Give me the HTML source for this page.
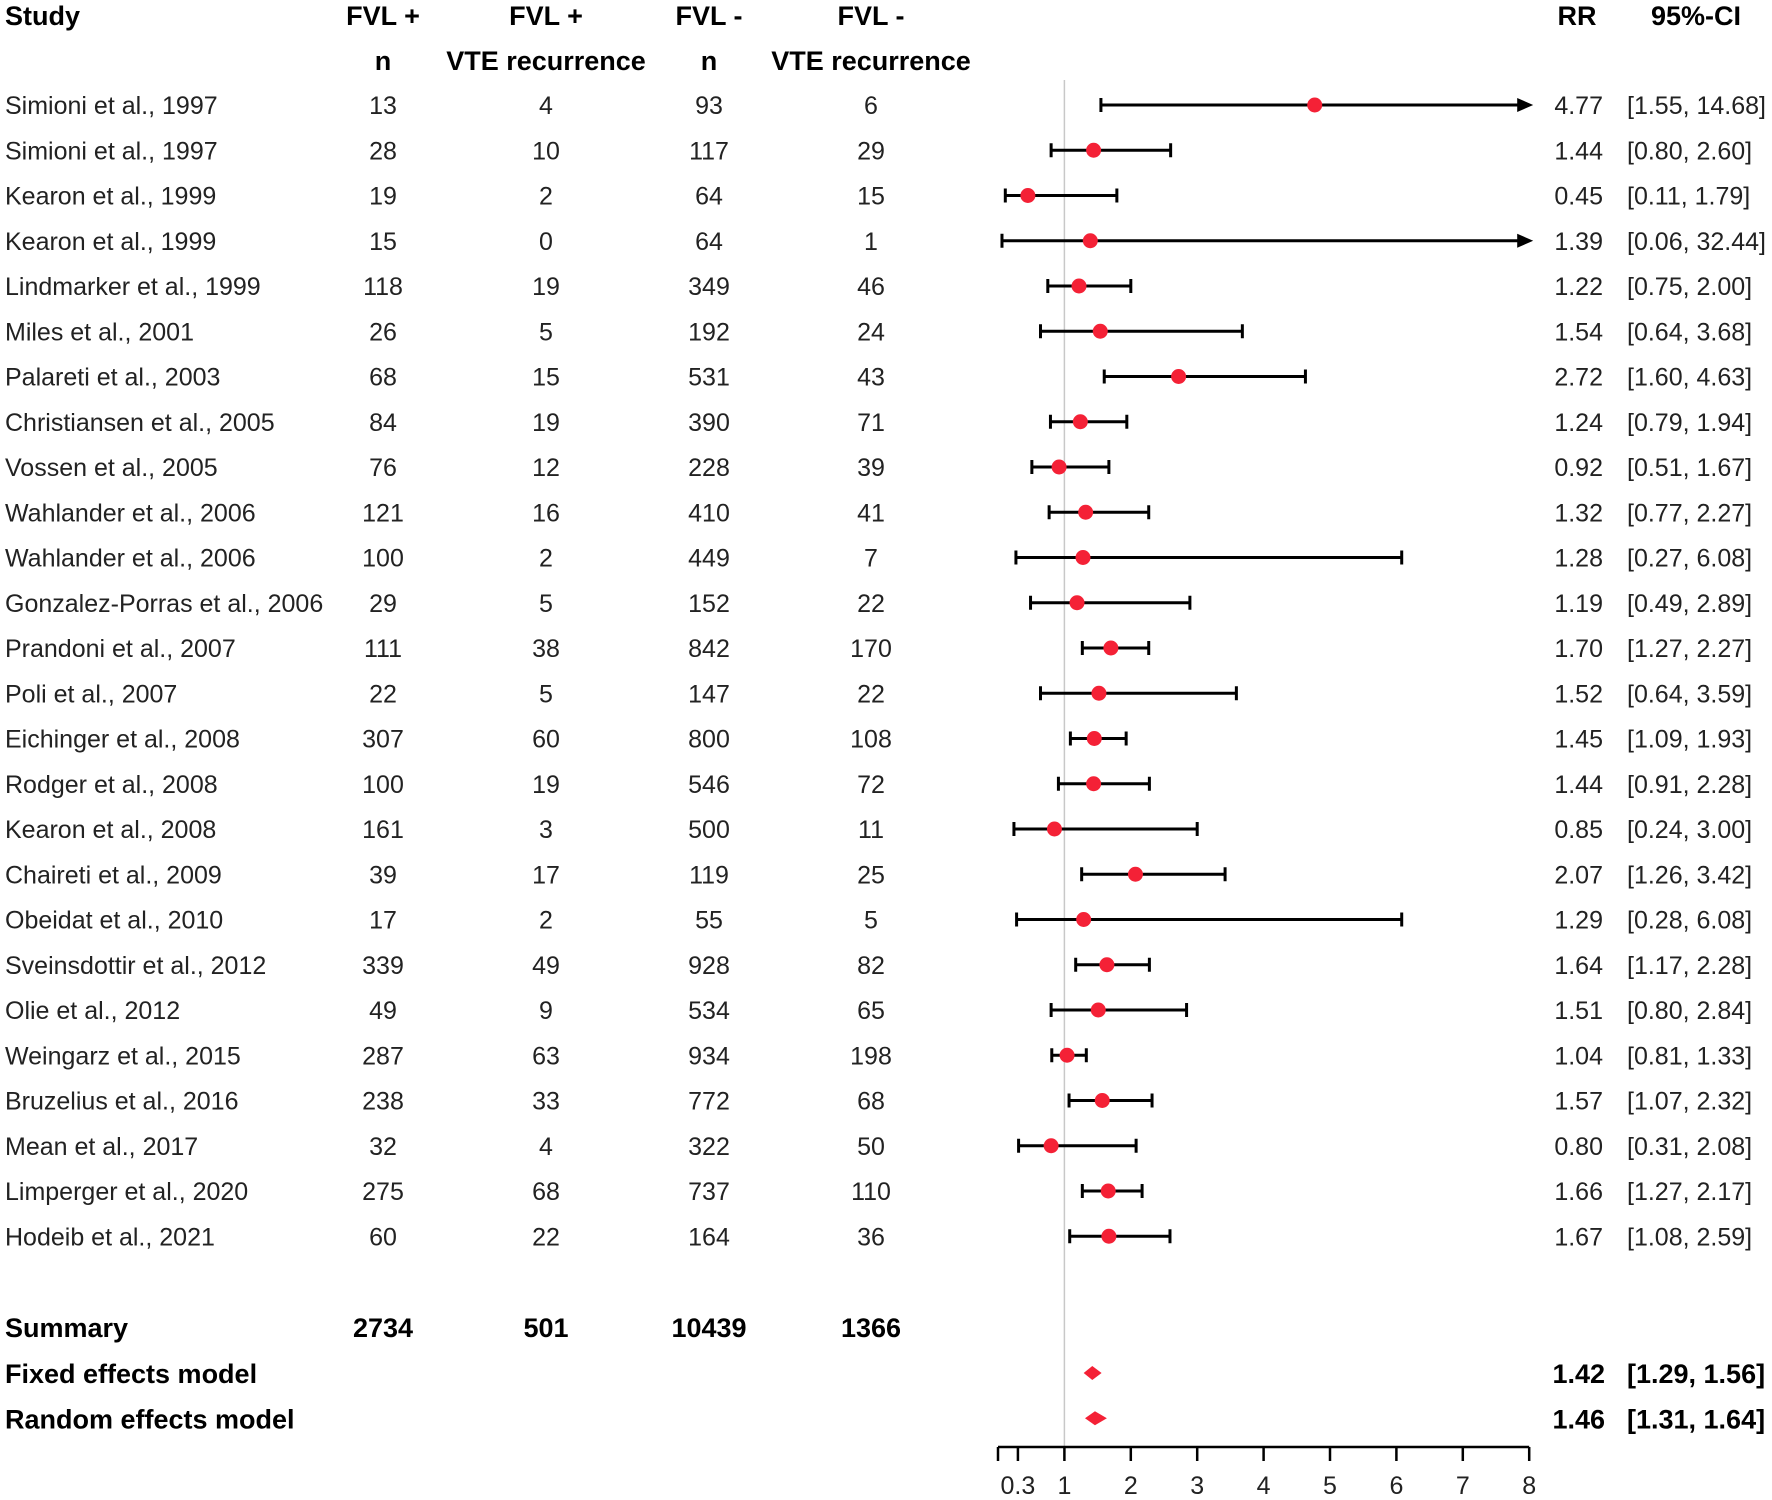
<!DOCTYPE html>
<html><head><meta charset="utf-8">
<style>
html,body{margin:0;padding:0;background:#fff;}
svg{display:block;font-family:"Liberation Sans",Arial,sans-serif;}
</style></head>
<body>
<svg id="plot" width="1772" height="1500" viewBox="0 0 1772 1500" xmlns="http://www.w3.org/2000/svg">
<g id="headers" font-weight="bold" font-size="27" fill="#000">
<text x="5" y="25">Study</text>
<text x="383" y="25" text-anchor="middle">FVL +</text>
<text x="383" y="70" text-anchor="middle">n</text>
<text x="546" y="25" text-anchor="middle">FVL +</text>
<text x="546" y="70" text-anchor="middle">VTE recurrence</text>
<text x="709" y="25" text-anchor="middle">FVL -</text>
<text x="709" y="70" text-anchor="middle">n</text>
<text x="871" y="25" text-anchor="middle">FVL -</text>
<text x="871" y="70" text-anchor="middle">VTE recurrence</text>
<text x="1577" y="25" text-anchor="middle">RR</text>
<text x="1696" y="25" text-anchor="middle">95%-CI</text>
</g>
<g id="rows"></g>
<g id="marks"></g>
<g id="axis"></g>
</svg>
<script>
const studies=["Simioni et al., 1997","Simioni et al., 1997","Kearon et al., 1999","Kearon et al., 1999","Lindmarker et al., 1999","Miles et al., 2001","Palareti et al., 2003","Christiansen et al., 2005","Vossen et al., 2005","Wahlander et al., 2006","Wahlander et al., 2006","Gonzalez-Porras et al., 2006","Prandoni et al., 2007","Poli et al., 2007","Eichinger et al., 2008","Rodger et al., 2008","Kearon et al., 2008","Chaireti et al., 2009","Obeidat et al., 2010","Sveinsdottir et al., 2012","Olie et al., 2012","Weingarz et al., 2015","Bruzelius et al., 2016","Mean et al., 2017","Limperger et al., 2020","Hodeib et al., 2021"];
const posN=[13,28,19,15,118,26,68,84,76,121,100,29,111,22,307,100,161,39,17,339,49,287,238,32,275,60];
const posVTE=[4,10,2,0,19,5,15,19,12,16,2,5,38,5,60,19,3,17,2,49,9,63,33,4,68,22];
const negN=[93,117,64,64,349,192,531,390,228,410,449,152,842,147,800,546,500,119,55,928,534,934,772,322,737,164];
const negVTE=[6,29,15,1,46,24,43,71,39,41,7,22,170,22,108,72,11,25,5,82,65,198,68,50,110,36];
const rr=[4.77,1.44,0.45,1.39,1.22,1.54,2.72,1.24,0.92,1.32,1.28,1.19,1.70,1.52,1.45,1.44,0.85,2.07,1.29,1.64,1.51,1.04,1.57,0.80,1.66,1.67];
const lo=[1.55,0.80,0.11,0.06,0.75,0.64,1.60,0.79,0.51,0.77,0.27,0.49,1.27,0.64,1.09,0.91,0.24,1.26,0.28,1.17,0.80,0.81,1.07,0.31,1.27,1.08];
const hi=[14.68,2.60,1.79,32.44,2.00,3.68,4.63,1.94,1.67,2.27,6.08,2.89,2.27,3.59,1.93,2.28,3.00,3.42,6.08,2.28,2.84,1.33,2.32,2.08,2.17,2.59];
const summaryTotals=[2734,501,10439,1366];
const modelNames=["Fixed effects model","Random effects model"];
const modelRR=[1.42,1.46];
const modelLo=[1.29,1.31];
const modelHi=[1.56,1.64];
const tickVals=[0,0.3,1,2,3,4,5,6,7,8];
const tickLabels=["","0.3","1","2","3","4","5","6","7","8"];

const NS="http://www.w3.org/2000/svg";
const xS=v=>998+v*66.4;
const XMAX=8;
const yRow=i=>105+i*45.25;
function mk(tag,attrs,parent,txt){const e=document.createElementNS(NS,tag);for(const k in attrs)e.setAttribute(k,attrs[k]);if(txt!==undefined)e.textContent=txt;parent.appendChild(e);return e;}
const rows=document.getElementById('rows'),marks=document.getElementById('marks'),axis=document.getElementById('axis');
const f2=v=>v.toFixed(2);

const ref=mk('line',{x1:xS(1),x2:xS(1),y1:80,y2:1447,stroke:'#c8c8c8','stroke-width':1.5},marks);



studies.forEach((s,i)=>{
  const y=yRow(i), ty=y+9;
  const g=mk('g',{'font-size':25,fill:'#222'},rows);
  
  
  mk('text',{x:5,y:ty},g,s);
  mk('text',{x:383,y:ty,'text-anchor':'middle'},g,posN[i]);
  mk('text',{x:546,y:ty,'text-anchor':'middle'},g,posVTE[i]);
  mk('text',{x:709,y:ty,'text-anchor':'middle'},g,negN[i]);
  mk('text',{x:871,y:ty,'text-anchor':'middle'},g,negVTE[i]);
  mk('text',{x:1603,y:ty,'text-anchor':'end'},g,f2(rr[i]));
  mk('text',{x:1627,y:ty},g,'['+f2(lo[i])+', '+f2(hi[i])+']');
  const m=mk('g',{},marks);
  
  
  const x1=xS(lo[i]);
  const over=hi[i]>XMAX;
  const x2=over?xS(XMAX):xS(hi[i]);
  mk('line',{x1:x1,x2:over?x2-6:x2,y1:y,y2:y,stroke:'#000','stroke-width':3},m);
  mk('line',{x1:x1,x2:x1,y1:y-7,y2:y+7,stroke:'#000','stroke-width':3},m);
  if(over){mk('path',{d:`M${x2+4},${y} L${x2-12},${y-7} L${x2-12},${y+7} Z`,fill:'#000'},m);}
  else mk('line',{x1:x2,x2:x2,y1:y-7,y2:y+7,stroke:'#000','stroke-width':3},m);
  mk('circle',{cx:xS(rr[i]),cy:y,r:7.5,fill:'#f42136'},m);
});

const sg=mk('g',{'font-size':27,'font-weight':'bold',fill:'#000'},rows);


mk('text',{x:5,y:1337},sg,'Summary');
[383,546,709,871].forEach((cx,k)=>mk('text',{x:cx,y:1337,'text-anchor':'middle'},sg,summaryTotals[k]));

modelNames.forEach((n,k)=>{
  const y=1373+k*45.25;
  const g=mk('g',{'font-size':27,'font-weight':'bold',fill:'#000'},rows);
  
  
  mk('text',{x:5,y:y+10},g,n);
  mk('text',{x:1605,y:y+10,'text-anchor':'end'},g,f2(modelRR[k]));
  mk('text',{x:1627,y:y+10},g,'['+f2(modelLo[k])+', '+f2(modelHi[k])+']');
  const d=mk('path',{d:`M${xS(modelLo[k])},${y} L${xS(modelRR[k])},${y-7} L${xS(modelHi[k])},${y} L${xS(modelRR[k])},${y+7} Z`,fill:'#f42136'},marks);
  
  
});

const ay=1447;
const al=mk('line',{x1:xS(0),x2:xS(8),y1:ay,y2:ay,stroke:'#000','stroke-width':2.5},axis);


tickVals.forEach((v,k)=>{
  mk('line',{x1:xS(v),x2:xS(v),y1:ay,y2:ay+14,stroke:'#000','stroke-width':2.5},axis);
  if(tickLabels[k]){const t=mk('text',{x:xS(v),y:1494,'text-anchor':'middle','font-size':25,fill:'#222'},axis,tickLabels[k]);
  
  }
});
</script>
</body></html>
